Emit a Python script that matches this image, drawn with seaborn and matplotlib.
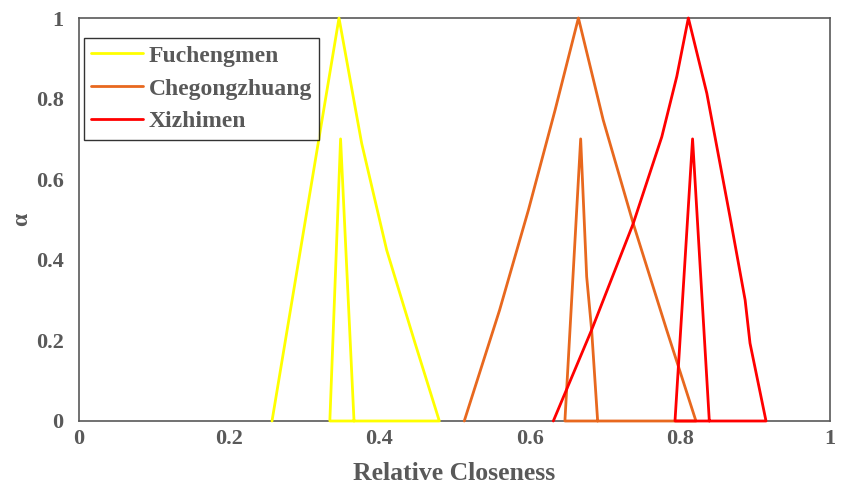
import numpy as np
import pandas as pd
import matplotlib
matplotlib.use("Agg")
import matplotlib.pyplot as plt
import seaborn as sns

# ---- data (alpha-cut paths: outer left -> peak -> outer right -> inner triangle) ----
stations = ["Fuchengmen", "Chegongzhuang", "Xizhimen"]
colors = ["#FFFF00", "#E8681E", "#FF0000"]

fu_x = [0.257, 0.3462, 0.3764, 0.4097, 0.4475, 0.4798, 0.334, 0.3483, 0.3662]
fu_a = [0.0, 1.0, 0.689, 0.424, 0.193, 0.0, 0.0, 0.70, 0.0]

ch_x = [0.513, 0.560, 0.5985, 0.634, 0.665, 0.698, 0.738, 0.7825, 0.8215,
        0.647, 0.668, 0.676, 0.6826, 0.6906]
ch_a = [0.0, 0.275, 0.524, 0.772, 1.0, 0.747, 0.49, 0.226, 0.0,
        0.0, 0.70, 0.358, 0.226, 0.0]

xi_x = [0.6316, 0.6826, 0.738, 0.776, 0.796, 0.8114, 0.836, 0.8668, 0.887, 0.8935, 0.9148,
        0.7936, 0.817, 0.8393]
xi_a = [0.0, 0.226, 0.49, 0.705, 0.855, 1.0, 0.813, 0.507, 0.30, 0.193, 0.0,
        0.0, 0.70, 0.0]

x_ticks = [0, 0.2, 0.4, 0.6, 0.8, 1]
x_tick_labels = ["0", "0.2", "0.4", "0.6", "0.8", "1"]
y_ticks = [0, 0.2, 0.4, 0.6, 0.8, 1]
y_tick_labels = ["0", "0.2", "0.4", "0.6", "0.8", "1"]

frames = []
for name, xs, ys in zip(stations, [fu_x, ch_x, xi_x], [fu_a, ch_a, xi_a]):
    frames.append(pd.DataFrame({"x": xs, "alpha": ys, "station": name,
                                "order": np.arange(len(xs))}))
df = pd.concat(frames, ignore_index=True)

sns.set_theme(style="white")
plt.rcParams["font.family"] = ["Liberation Serif", "DejaVu Serif"]
plt.rcParams["font.weight"] = "bold"

gray = "#595959"
fig = plt.figure(figsize=(8.44, 4.88), dpi=100)
ax = fig.add_axes([79 / 844, 1 - 421 / 488, (830 - 79) / 844, (421 - 18) / 488])

sns.lineplot(data=df, x="x", y="alpha", hue="station", hue_order=stations,
             palette=colors, sort=False, estimator=None, linewidth=2.0, ax=ax)
for ln in ax.get_lines():
    ln.set_clip_on(False)
    ln.set_zorder(3)

ax.set_xlim(0, 1)
ax.set_ylim(0, 1)
ax.set_xticks(x_ticks)
ax.set_xticklabels(x_tick_labels)
ax.set_yticks(y_ticks)
ax.set_yticklabels(y_tick_labels)
ax.tick_params(axis="both", length=0, labelsize=16, labelcolor=gray)
ax.tick_params(axis="x", pad=6)
ax.tick_params(axis="y", pad=11)
for lbl in ax.get_xticklabels() + ax.get_yticklabels():
    lbl.set_fontweight("bold")

for sp in ax.spines.values():
    sp.set_visible(True)
    sp.set_color(gray)
    sp.set_linewidth(1.2)
    sp.set_zorder(2)

ax.set_xlabel("Relative Closeness", fontsize=18.5, fontweight="bold", color=gray, labelpad=9)
ax.set_ylabel("α", fontsize=17, fontweight="bold", color=gray, labelpad=3)

leg = ax.legend(loc="upper left", bbox_to_anchor=(0.0067, 0.950), borderaxespad=0,
                frameon=True, fancybox=False, handlelength=2.2, handletextpad=0.25,
                labelspacing=0.48, borderpad=0.3,
                prop={"family": "Liberation Serif", "weight": "bold", "size": 17})
leg.get_frame().set_edgecolor("black")
leg.get_frame().set_linewidth(1.0)
leg.set_zorder(5)
for t in leg.get_texts():
    t.set_color(gray)
for h in leg.get_lines():
    h.set_linewidth(2.0)
ax.grid(False)

fig.savefig("out.png", dpi=100)
